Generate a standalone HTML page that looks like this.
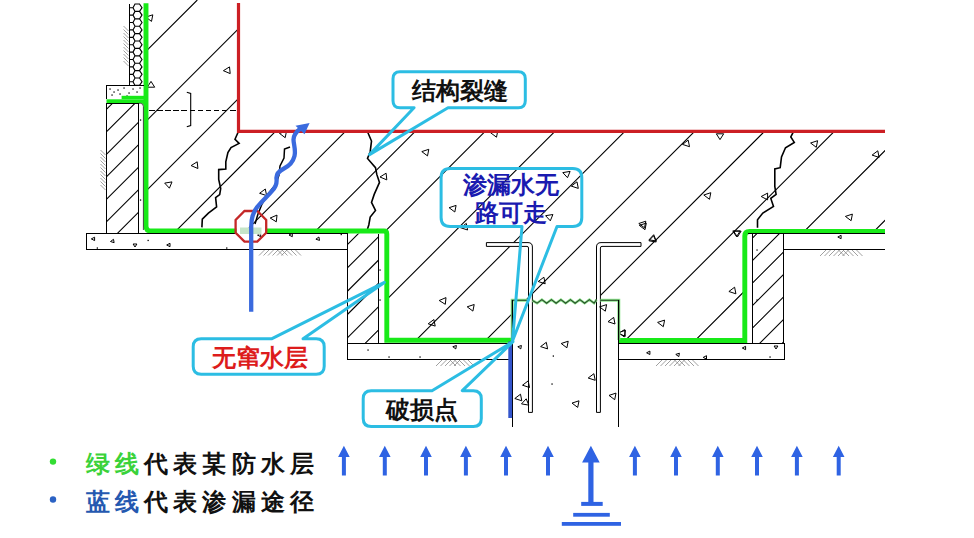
<!DOCTYPE html>
<html><head><meta charset="utf-8"><style>
html,body{margin:0;padding:0;background:#fff;width:974px;height:538px;overflow:hidden;position:relative;font-family:"Liberation Sans",sans-serif;}
</style></head><body>
<svg width="974" height="538" viewBox="0 0 974 538" style="position:absolute;left:0;top:0">
<defs></defs>
<clipPath id="hm"><polygon points="148,0 237,0 237,131 885,131 885,229 745,229 745,338 619,338 619,300 512,300 512,338 386,338 386,229 148,229"/></clipPath>
<path clip-path="url(#hm)" d="M127.5,0L0,127.5M197.3,0L0,197.3M267.2,0L0,267.2M337.0,0L0,337.0M406.9,0L0,406.9M476.8,0L0,476.8M546.6,0L0,546.6M616.5,0L0,616.5M686.3,0L0,686.3M756.2,0L0,756.2M826.0,0L0,826.0M895.9,0L0,895.9M965.7,0L0,965.7M1035.6,0L0,1035.6M1105.4,0L0,1105.4M1175.2,0L0,1175.2M1245.1,0L0,1245.1" stroke="#000" stroke-width="1.1" fill="none"/>
<clipPath id="hb1"><polygon points="107,103 138.5,103 138.5,233.5 107,233.5"/></clipPath>
<path clip-path="url(#hb1)" d="M193.3,0L0,193.3M215.8,0L0,215.8M238.3,0L0,238.3M260.8,0L0,260.8M283.3,0L0,283.3M305.8,0L0,305.8M328.3,0L0,328.3M350.8,0L0,350.8M373.3,0L0,373.3" stroke="#000" stroke-width="1.1" fill="none"/>
<clipPath id="hb2"><polygon points="347.5,233.5 378.8,233.5 378.8,343.4 347.5,343.4"/></clipPath>
<path clip-path="url(#hb2)" d="M568.7,0L0,568.7M592.0,0L0,592.0M615.3,0L0,615.3M638.6,0L0,638.6M661.9,0L0,661.9M685.2,0L0,685.2M708.5,0L0,708.5M731.8,0L0,731.8" stroke="#000" stroke-width="1.1" fill="none"/>
<clipPath id="hb3"><polygon points="752.4,233.7 783.6,233.7 783.6,343.4 752.4,343.4"/></clipPath>
<path clip-path="url(#hb3)" d="M968.0,0L0,968.0M990.5,0L0,990.5M1013.0,0L0,1013.0M1035.5,0L0,1035.5M1058.0,0L0,1058.0M1080.5,0L0,1080.5M1103.0,0L0,1103.0M1125.5,0L0,1125.5M1148.0,0L0,1148.0" stroke="#000" stroke-width="1.1" fill="none"/>
<path d="M486.4,242.6 L528,242.6 Q532.4,242.6 532.4,247 L532.4,412.4 L528.5,412.4 L528.5,248 Q528.5,246.4 527,246.4 L486.4,246.4 Z" fill="#fff" stroke="#000" stroke-width="1"/>
<path d="M641,242.6 L601,242.6 Q596.5,242.6 596.5,247 L596.5,412.4 L600.4,412.4 L600.4,248 Q600.4,246.4 602,246.4 L641,246.4 Z" fill="#fff" stroke="#000" stroke-width="1"/>
<path d="M129.5,7.7L133,7.7L135,4.0L139.5,4.0L142,7.7L139.5,11.4L135,11.4L133,7.7M129.5,15.1L133,15.1L135,11.4L139.5,11.4L142,15.1L139.5,18.8L135,18.8L133,15.1M129.5,22.5L133,22.5L135,18.8L139.5,18.8L142,22.5L139.5,26.2L135,26.2L133,22.5M129.5,29.9L133,29.9L135,26.2L139.5,26.2L142,29.9L139.5,33.6L135,33.6L133,29.9M129.5,37.3L133,37.3L135,33.6L139.5,33.6L142,37.3L139.5,41.0L135,41.0L133,37.3M129.5,44.7L133,44.7L135,41.0L139.5,41.0L142,44.7L139.5,48.4L135,48.4L133,44.7M129.5,52.1L133,52.1L135,48.4L139.5,48.4L142,52.1L139.5,55.8L135,55.8L133,52.1M129.5,59.5L133,59.5L135,55.8L139.5,55.8L142,59.5L139.5,63.2L135,63.2L133,59.5M129.5,66.9L133,66.9L135,63.2L139.5,63.2L142,66.9L139.5,70.6L135,70.6L133,66.9M129.5,74.3L133,74.3L135,70.6L139.5,70.6L142,74.3L139.5,78.0L135,78.0L133,74.3M129.5,81.7L133,81.7L135,78.0L139.5,78.0L142,81.7L139.5,85.4L135,85.4L133,81.7" stroke="#000" stroke-width="1.15" fill="none"/>
<path d="M123.5,26.0L128.5,31.0M123.5,29.5L128.5,34.5M123.5,33.0L128.5,38.0M123.5,36.5L128.5,41.5M123.5,40.0L128.5,45.0M123.5,43.5L128.5,48.5M123.5,47.0L128.5,52.0M123.5,50.5L128.5,55.5M123.5,54.0L128.5,59.0M123.5,57.5L128.5,62.5M123.5,61.0L128.5,66.0" stroke="#888" stroke-width="0.8" fill="none"/>
<path d="M100.5,150.0L105.5,155.0M100.5,153.5L105.5,158.5M100.5,157.0L105.5,162.0M100.5,160.5L105.5,165.5M100.5,164.0L105.5,169.0M100.5,167.5L105.5,172.5M100.5,171.0L105.5,176.0M100.5,174.5L105.5,179.5M100.5,178.0L105.5,183.0M100.5,181.5L105.5,186.5M100.5,185.0L105.5,190.0" stroke="#888" stroke-width="0.8" fill="none"/>
<path d="M259.0,255.5L265.0,249.5M263.5,255.5L269.5,249.5M268.0,255.5L274.0,249.5M272.5,255.5L278.5,249.5M277.0,255.5L283.0,249.5M277.0,249.5L283.0,255.5M281.5,255.5L287.5,249.5M281.5,249.5L287.5,255.5M286.0,249.5L292.0,255.5M290.5,249.5L296.5,255.5M295.0,249.5L301.0,255.5" stroke="#888" stroke-width="0.8" fill="none"/>
<path d="M436.0,366L442.5,359.5M440.5,366L447.0,359.5M445.0,366L451.5,359.5M449.5,366L456.0,359.5M449.5,359.5L456.0,366M454.0,366L460.5,359.5M454.0,359.5L460.5,366M458.5,359.5L465.0,366M463.0,359.5L469.5,366M467.5,359.5L474.0,366" stroke="#888" stroke-width="0.8" fill="none"/>
<path d="M656.0,366L662.5,359.5M660.5,366L667.0,359.5M665.0,366L671.5,359.5M669.5,366L676.0,359.5M674.0,366L680.5,359.5M674.0,359.5L680.5,366M678.5,366L685.0,359.5M678.5,359.5L685.0,366M683.0,359.5L689.5,366M687.5,359.5L694.0,366M692.0,359.5L698.5,366" stroke="#888" stroke-width="0.8" fill="none"/>
<path d="M820.0,256L826.5,249.5M824.5,256L831.0,249.5M829.0,256L835.5,249.5M833.5,256L840.0,249.5M838.0,256L844.5,249.5M838.0,249.5L844.5,256M842.5,256L849.0,249.5M842.5,249.5L849.0,256M847.0,249.5L853.5,256M851.5,249.5L858.0,256M856.0,249.5L862.5,256" stroke="#888" stroke-width="0.8" fill="none"/>
<polygon points="145.8,17.1 151.5,21.4 152.8,14.8" fill="none" stroke="#000" stroke-width="1"/>
<polygon points="223.4,70.7 230.2,73.6 229.5,66.9" fill="none" stroke="#000" stroke-width="1"/>
<polygon points="151.0,81.4 147.3,87.2 154.7,87.2" fill="none" stroke="#000" stroke-width="1"/>
<polygon points="191.1,165.6 197.9,168.5 197.2,161.8" fill="none" stroke="#000" stroke-width="1"/>
<polygon points="164.7,183.1 169.4,188.2 172.0,181.9" fill="none" stroke="#000" stroke-width="1"/>
<polygon points="259.6,193.3 266.6,195.6 265.3,189.0" fill="none" stroke="#000" stroke-width="1"/>
<polygon points="270.2,218.0 276.3,221.8 277.0,215.1" fill="none" stroke="#000" stroke-width="1"/>
<polygon points="285.2,137.7 286.5,131.1 279.5,133.4" fill="none" stroke="#000" stroke-width="1"/>
<polygon points="421.8,151.6 427.5,155.9 428.8,149.3" fill="none" stroke="#000" stroke-width="1"/>
<polygon points="496.5,137.2 497.8,130.6 490.8,132.9" fill="none" stroke="#000" stroke-width="1"/>
<polygon points="380.0,177.0 386.8,179.9 386.1,173.2" fill="none" stroke="#000" stroke-width="1"/>
<polygon points="562.8,172.6 567.5,177.7 570.1,171.4" fill="none" stroke="#000" stroke-width="1"/>
<polygon points="571.3,186.1 578.3,188.4 577.0,181.8" fill="none" stroke="#000" stroke-width="1"/>
<polygon points="449.1,207.7 454.8,212.0 456.1,205.4" fill="none" stroke="#000" stroke-width="1"/>
<polygon points="545.6,215.7 550.3,220.8 552.9,214.5" fill="none" stroke="#000" stroke-width="1"/>
<polygon points="460.6,227.7 467.6,230.0 466.3,223.4" fill="none" stroke="#000" stroke-width="1"/>
<polygon points="638.8,223.5 644.5,227.8 645.8,221.2" fill="none" stroke="#000" stroke-width="1"/>
<polygon points="649.0,239.8 656.3,241.0 653.7,234.7" fill="none" stroke="#000" stroke-width="1"/>
<polygon points="716.3,133.8 720.0,139.6 723.7,133.8" fill="none" stroke="#000" stroke-width="1"/>
<polygon points="682.5,144.4 689.5,146.7 688.2,140.1" fill="none" stroke="#000" stroke-width="1"/>
<polygon points="810.6,143.0 816.3,147.3 817.6,140.7" fill="none" stroke="#000" stroke-width="1"/>
<polygon points="872.1,155.1 879.1,157.4 877.8,150.8" fill="none" stroke="#000" stroke-width="1"/>
<polygon points="703.8,195.0 709.5,199.3 710.8,192.7" fill="none" stroke="#000" stroke-width="1"/>
<polygon points="761.2,196.5 767.6,199.9 767.6,193.1" fill="none" stroke="#000" stroke-width="1"/>
<polygon points="845.4,216.4 851.1,220.7 852.4,214.1" fill="none" stroke="#000" stroke-width="1"/>
<polygon points="733.7,231.2 737.4,237.0 741.1,231.2" fill="none" stroke="#000" stroke-width="1"/>
<polygon points="439.2,300.5 445.3,304.3 446.0,297.6" fill="none" stroke="#000" stroke-width="1"/>
<polygon points="467.2,306.8 472.9,311.1 474.2,304.5" fill="none" stroke="#000" stroke-width="1"/>
<polygon points="428.2,323.8 435.2,326.1 433.9,319.5" fill="none" stroke="#000" stroke-width="1"/>
<polygon points="538.2,281.5 545.2,283.8 543.9,277.2" fill="none" stroke="#000" stroke-width="1"/>
<polygon points="648.9,240.8 656.2,242.0 653.6,235.7" fill="none" stroke="#000" stroke-width="1"/>
<polygon points="599.6,306.9 605.3,311.2 606.6,304.6" fill="none" stroke="#000" stroke-width="1"/>
<polygon points="608.0,321.7 615.0,324.0 613.7,317.4" fill="none" stroke="#000" stroke-width="1"/>
<polygon points="618.5,332.6 624.2,336.9 625.5,330.3" fill="none" stroke="#000" stroke-width="1"/>
<polygon points="645.0,229.7 646.3,223.1 639.3,225.4" fill="none" stroke="#000" stroke-width="1"/>
<polygon points="732.8,230.9 736.5,236.7 740.2,230.9" fill="none" stroke="#000" stroke-width="1"/>
<polygon points="728.9,291.5 735.9,293.8 734.6,287.2" fill="none" stroke="#000" stroke-width="1"/>
<polygon points="657.6,322.4 663.3,326.7 664.6,320.1" fill="none" stroke="#000" stroke-width="1"/>
<polygon points="618.5,333.4 625.3,336.3 624.6,329.6" fill="none" stroke="#000" stroke-width="1"/>
<polygon points="540.6,346.6 547.6,348.9 546.3,342.3" fill="none" stroke="#000" stroke-width="1"/>
<polygon points="561.2,343.5 566.9,347.8 568.2,341.2" fill="none" stroke="#000" stroke-width="1"/>
<polygon points="588.2,378.0 595.2,380.3 593.9,373.7" fill="none" stroke="#000" stroke-width="1"/>
<polygon points="609.0,395.4 614.7,399.7 616.0,393.1" fill="none" stroke="#000" stroke-width="1"/>
<polygon points="572.0,403.1 577.7,407.4 579.0,400.8" fill="none" stroke="#000" stroke-width="1"/>
<polygon points="514.8,398.5 521.8,400.8 520.5,394.2" fill="none" stroke="#000" stroke-width="1"/>
<polygon points="521.5,403.9 528.8,405.1 526.2,398.8" fill="none" stroke="#000" stroke-width="1"/>
<polygon points="522.5,385.2 529.5,387.5 528.2,380.9" fill="none" stroke="#000" stroke-width="1"/>
<polygon points="91.3,238.9 94.6,240.6 94.6,237.2" fill="none" stroke="#000" stroke-width="1"/>
<polygon points="110.5,241.5 114.1,242.7 113.5,239.3" fill="none" stroke="#000" stroke-width="1"/>
<polygon points="133.1,244.0 135.0,247.0 136.9,244.0" fill="none" stroke="#000" stroke-width="1"/>
<polygon points="166.7,245.0 170.0,246.7 170.0,243.3" fill="none" stroke="#000" stroke-width="1"/>
<polygon points="289.0,235.0 292.3,236.7 292.3,233.3" fill="none" stroke="#000" stroke-width="1"/>
<polygon points="315.9,239.2 319.5,240.4 318.9,237.0" fill="none" stroke="#000" stroke-width="1"/>
<polygon points="257.4,235.0 260.7,236.7 260.7,233.3" fill="none" stroke="#000" stroke-width="1"/>
<polygon points="452.8,346.7 455.8,348.9 456.4,345.5" fill="none" stroke="#000" stroke-width="1"/>
<polygon points="517.8,346.7 520.8,348.9 521.4,345.5" fill="none" stroke="#000" stroke-width="1"/>
<polygon points="774.1,346.0 776.0,349.0 777.9,346.0" fill="none" stroke="#000" stroke-width="1"/>
<polygon points="837.8,237.0 841.1,238.7 841.1,235.3" fill="none" stroke="#000" stroke-width="1"/>
<polygon points="646.6,352.8 649.9,354.5 649.9,351.1" fill="none" stroke="#000" stroke-width="1"/>
<polygon points="675.8,354.4 678.8,356.6 679.4,353.2" fill="none" stroke="#000" stroke-width="1"/>
<polygon points="703.2,357.4 706.5,359.1 706.5,355.7" fill="none" stroke="#000" stroke-width="1"/>
<polygon points="742.3,348.0 745.6,349.7 745.6,346.3" fill="none" stroke="#000" stroke-width="1"/>
<g fill="#000"><rect x="147.5" y="239.8" width="1.3" height="1.3"/><rect x="96.7" y="247.4" width="1.3" height="1.3"/><rect x="226.1" y="247.4" width="1.3" height="1.3"/><rect x="340.6" y="233.9" width="1.3" height="1.3"/><rect x="552.7" y="355.4" width="1.3" height="1.3"/><rect x="551.4" y="383.4" width="1.3" height="1.3"/><rect x="367.4" y="349.4" width="1.3" height="1.3"/><rect x="388.4" y="356.4" width="1.3" height="1.3"/><rect x="419.4" y="356.4" width="1.3" height="1.3"/><rect x="769.4" y="356.4" width="1.3" height="1.3"/><rect x="379.4" y="269.4" width="1.3" height="1.3"/><rect x="379.4" y="299.4" width="1.3" height="1.3"/><rect x="756.4" y="249.4" width="1.3" height="1.3"/><rect x="756.4" y="299.4" width="1.3" height="1.3"/><rect x="139.9" y="119.4" width="1.3" height="1.3"/><rect x="139.9" y="199.4" width="1.3" height="1.3"/><rect x="109.4" y="88.4" width="1.3" height="1.3"/><rect x="113.4" y="91.4" width="1.3" height="1.3"/><rect x="117.4" y="89.4" width="1.3" height="1.3"/><rect x="123.4" y="87.4" width="1.3" height="1.3"/><rect x="128.4" y="92.4" width="1.3" height="1.3"/><rect x="132.4" y="88.4" width="1.3" height="1.3"/><rect x="136.4" y="91.4" width="1.3" height="1.3"/><rect x="111.4" y="94.4" width="1.3" height="1.3"/><rect x="126.4" y="95.4" width="1.3" height="1.3"/><rect x="139.4" y="87.4" width="1.3" height="1.3"/><rect x="119.4" y="93.4" width="1.3" height="1.3"/></g>
<path d="M238.1,132.2 L235,139.3 L239.1,143.4 L231,147.5 L227.9,152.6 L225.8,161.9 L225.8,169 L218.7,169.6 L218.7,179.3 L220.7,188.5 L219.7,194.6 L215.6,197.7 L216.6,206.9 L208.4,213.1 L202.3,219.2 L201.9,227.4" stroke="#000" stroke-width="1.6" fill="none" stroke-linejoin="miter"/>
<path d="M367.5,131.7 L371.5,141 L370.2,151.7 L367.5,158.4 L375.5,167.7 L376.8,174.4 L379.5,182.4 L374.2,194.4 L371.5,202.4 L375.5,210.4 L370.2,217 L368.8,225 L367.5,229" stroke="#000" stroke-width="1.6" fill="none" stroke-linejoin="miter"/>
<path d="M793.5,131.7 L790.8,137 L794.3,142.4 L785.5,147.7 L781.5,157 L780.2,167.7 L774.8,169 L774.8,186.4 L776.1,194.4 L770.8,198.4 L773.5,206.4 L762.8,213.1 L757.5,219.8 L757.5,227.8" stroke="#000" stroke-width="1.6" fill="none" stroke-linejoin="miter"/>
<path d="M290,147 L284.5,149 L284,158 L280,166 L279,175 L276,184 L268,194 L262,204 L258,214 L255,224" stroke="#000" stroke-width="1.5" fill="none" stroke-linejoin="miter"/>
<path d="M146,3.3 L146,226 Q146,231 151,231 L384,231 Q386.8,231 386.8,234 L386.8,340.3 L512,340.3" stroke="#18ea18" stroke-width="4.9" fill="none"/>
<path d="M619,340.5 L744.8,340.5 L744.8,236 Q744.8,231.5 749.5,231.5 L885,231.5" stroke="#18ea18" stroke-width="4.9" fill="none"/>
<rect x="106.5" y="99.3" width="40" height="3.8" fill="#18ea18"/><rect x="121.6" y="95.8" width="24" height="3.4" fill="#18ea18"/><path d="M139.5,103 L144.5,103 L144.5,108 A4.5,4.5 0 0 0 139.5,103 Z" fill="#18ea18"/>
<path d="M512.2,340 L512.2,300.2 L528.5,300.2 M600.4,300.2 L618.8,300.2 L618.8,340" stroke="#8fe88f" stroke-width="3" fill="none"/>
<path d="M532.4,300.5 L537.1,303.2 L541.9,299.6 L546.6,303.2 L551.4,299.6 L556.1,303.2 L560.9,299.6 L565.6,303.2 L570.4,299.6 L575.1,303.2 L579.9,299.6 L584.6,303.2 L589.4,299.6 L594.1,303.2 L596.5,299.6 " stroke="#8fe88f" stroke-width="2.6" fill="none"/>
<path d="M512.2,340 L512.2,300.2 L528.5,300.2 M600.4,300.2 L618.8,300.2 L618.8,340" stroke="#1a3a1a" stroke-width="1.1" fill="none"/>
<path d="M532.4,300.5 L537.1,303.2 L541.9,299.6 L546.6,303.2 L551.4,299.6 L556.1,303.2 L560.9,299.6 L565.6,303.2 L570.4,299.6 L575.1,303.2 L579.9,299.6 L584.6,303.2 L589.4,299.6 L594.1,303.2 L596.5,299.6 " stroke="#2a4a2a" stroke-width="1.1" fill="none"/>
<line x1="86.4" y1="233.5" x2="347.5" y2="233.5" stroke="#000" stroke-width="1.0" shape-rendering="crispEdges"/><line x1="86.4" y1="249.5" x2="347.5" y2="249.5" stroke="#000" stroke-width="1.0" shape-rendering="crispEdges"/><line x1="86.5" y1="233.5" x2="86.5" y2="249.3" stroke="#000" stroke-width="1.0" shape-rendering="crispEdges"/><line x1="106.5" y1="103" x2="106.5" y2="233.5" stroke="#000" stroke-width="1.0" shape-rendering="crispEdges"/><line x1="138.5" y1="103" x2="138.5" y2="233.5" stroke="#000" stroke-width="1.0" shape-rendering="crispEdges"/><line x1="106.9" y1="103.5" x2="139" y2="103.5" stroke="#000" stroke-width="1.0" shape-rendering="crispEdges"/><line x1="106.5" y1="85.2" x2="106.5" y2="99" stroke="#000" stroke-width="1.0" shape-rendering="crispEdges"/><line x1="106.5" y1="85.5" x2="144" y2="85.5" stroke="#000" stroke-width="1.0" shape-rendering="crispEdges"/><line x1="129.5" y1="4" x2="129.5" y2="85.2" stroke="#000" stroke-width="1.0" shape-rendering="crispEdges"/><line x1="347.5" y1="233.5" x2="347.5" y2="359.5" stroke="#000" stroke-width="1.0" shape-rendering="crispEdges"/><line x1="378.5" y1="233.5" x2="378.5" y2="343.4" stroke="#000" stroke-width="1.0" shape-rendering="crispEdges"/><line x1="347.5" y1="343.5" x2="512" y2="343.5" stroke="#000" stroke-width="1.0" shape-rendering="crispEdges"/><line x1="347.5" y1="359.5" x2="512" y2="359.5" stroke="#000" stroke-width="1.0" shape-rendering="crispEdges"/><line x1="512.5" y1="300" x2="512.5" y2="427" stroke="#000" stroke-width="1.0" shape-rendering="crispEdges"/><line x1="618.5" y1="300" x2="618.5" y2="427" stroke="#000" stroke-width="1.0" shape-rendering="crispEdges"/><line x1="618.8" y1="343.5" x2="784" y2="343.5" stroke="#000" stroke-width="1.0" shape-rendering="crispEdges"/><line x1="618.8" y1="359.5" x2="784" y2="359.5" stroke="#000" stroke-width="1.0" shape-rendering="crispEdges"/><line x1="784.5" y1="343.4" x2="784.5" y2="359.5" stroke="#000" stroke-width="1.0" shape-rendering="crispEdges"/><line x1="752.5" y1="233.7" x2="752.5" y2="343.4" stroke="#000" stroke-width="1.0" shape-rendering="crispEdges"/><line x1="783.5" y1="233.7" x2="783.5" y2="343.4" stroke="#000" stroke-width="1.0" shape-rendering="crispEdges"/><line x1="783.6" y1="249.5" x2="885" y2="249.5" stroke="#000" stroke-width="1.0" shape-rendering="crispEdges"/><line x1="748" y1="233.5" x2="885" y2="233.5" stroke="#000" stroke-width="1.0" shape-rendering="crispEdges"/><line x1="149" y1="110.5" x2="237" y2="110.5" stroke="#000" stroke-width="1" stroke-dasharray="5.5 2.6" shape-rendering="crispEdges"/><path d="M186.8,92.3 L190.7,93.5 L190.7,125.5 L186.8,126.8" stroke="#000" stroke-width="1.1" fill="none"/>
<path d="M139,103.3 L140.5,103.3 Q143.4,103.3 143.4,106.5 L143.4,230" stroke="#222" stroke-width="0.8" fill="none"/>
<path d="M238.5,3 L238.5,131.3 L885,131.3" stroke="#cc1f24" stroke-width="3.2" fill="none"/>
<rect x="236.5" y="227.5" width="29" height="7" fill="#fff"/><rect x="240" y="227.5" width="21.5" height="6.5" fill="#c5e5c8"/>
<polygon points="266.2,232.7 257.3,241.6 244.5,241.6 235.6,232.7 235.6,219.9 244.5,211.0 257.3,211.0 266.2,219.9" fill="none" stroke="#c42828" stroke-width="2.3"/>
<path d="M251.2,311.8 L251.2,227 C251.2,218 254,210 259,205 C263,200 268,196 272,191 C276,187 277,183 276.5,179 C276,175 279,171 284,168.5 C289,166 293,162 294.5,156 C296,150 293.5,144 293.5,139.5 C293.5,135 296,132 300.5,128.5" stroke="#3a6ade" stroke-width="4.3" fill="none" stroke-linecap="butt"/>
<polygon points="295.5,125.8 309.6,123 304.5,134.2" fill="#3a6ade"/>
<rect x="508.3" y="341.5" width="3.8" height="76.5" fill="#3355cc"/>
<path d="M400,71.7 L518.3,71.7 Q525.3,71.7 525.3,78.7 L525.3,100.7 Q525.3,107.7 518.3,107.7 L448,107.7 L369.5,154.6 L414,107.7 L400,107.7 Q393,107.7 393,100.7 L393,78.7 Q393,71.7 400,71.7 Z" fill="none" stroke="#2cbde3" stroke-width="3" stroke-linejoin="round"/>
<path d="M450.1,168.4 L572.8,168.4 Q581.8,168.4 581.8,177.4 L581.8,217.5 Q581.8,226.5 572.8,226.5 L557,226.5 L512.5,341 L522,226.5 L450.1,226.5 Q441.1,226.5 441.1,217.5 L441.1,177.4 Q441.1,168.4 450.1,168.4 Z" fill="none" stroke="#2cbde3" stroke-width="3" stroke-linejoin="round"/>
<path d="M201.2,338.8 L271.5,338.8 L384.4,282.4 L303.1,338.8 L316.2,338.8 Q324.2,338.8 324.2,346.8 L324.2,366.2 Q324.2,374.2 316.2,374.2 L201.2,374.2 Q193.2,374.2 193.2,366.2 L193.2,346.8 Q193.2,338.8 201.2,338.8 Z" fill="none" stroke="#2cbde3" stroke-width="3" stroke-linejoin="round"/>
<path d="M371.2,390.7 L432,390.7 L513,341.7 L462.3,390.7 L473.3,390.7 Q481.3,390.7 481.3,398.7 L481.3,418.6 Q481.3,426.6 473.3,426.6 L371.2,426.6 Q363.2,426.6 363.2,418.6 L363.2,398.7 Q363.2,390.7 371.2,390.7 Z" fill="none" stroke="#2cbde3" stroke-width="3" stroke-linejoin="round"/>
<text x="459.5" y="99" font-family="Liberation Sans, sans-serif" font-weight="bold" font-size="24" text-anchor="middle" fill="#111">结构裂缝</text>
<text x="510.7" y="193" font-family="Liberation Sans, sans-serif" font-weight="bold" font-size="24" text-anchor="middle" fill="#1a1ab0">渗漏水无</text>
<text x="511" y="221" font-family="Liberation Sans, sans-serif" font-weight="bold" font-size="24" text-anchor="middle" fill="#1a1ab0">路可走</text>
<text x="259.6" y="366" font-family="Liberation Sans, sans-serif" font-weight="bold" font-size="24" text-anchor="middle" fill="#dd1c1c">无窜水层</text>
<text x="422.4" y="418" font-family="Liberation Sans, sans-serif" font-weight="bold" font-size="24" text-anchor="middle" fill="#111">破损点</text>
<circle cx="53" cy="461.6" r="3.2" fill="#33dd33"/><circle cx="53" cy="499.5" r="3.2" fill="#2b62c4"/>
<text x="86" y="472" font-family="Liberation Serif, serif" font-size="24" letter-spacing="5.1" font-weight="bold"><tspan fill="#3ad23a">绿线</tspan><tspan fill="#111">代表某防水层</tspan></text>
<text x="86" y="509.5" font-family="Liberation Serif, serif" font-size="24" letter-spacing="5.1" font-weight="bold"><tspan fill="#2458b0">蓝线</tspan><tspan fill="#111">代表渗漏途径</tspan></text>
<path d="M338.09999999999997,457.1 L343.9,445.8 L349.7,457.1 L345.9,457.1 L345.9,475.5 L341.9,475.5 L341.9,457.1 Z" fill="#2f63e3"/>
<path d="M379.0,457.1 L384.8,445.8 L390.6,457.1 L386.8,457.1 L386.8,475.5 L382.8,475.5 L382.8,457.1 Z" fill="#2f63e3"/>
<path d="M420.2,457.1 L426,445.8 L431.8,457.1 L428,457.1 L428,475.5 L424,475.5 L424,457.1 Z" fill="#2f63e3"/>
<path d="M460.09999999999997,457.1 L465.9,445.8 L471.7,457.1 L467.9,457.1 L467.9,475.5 L463.9,475.5 L463.9,457.1 Z" fill="#2f63e3"/>
<path d="M500.2,457.1 L506,445.8 L511.8,457.1 L508,457.1 L508,475.5 L504,475.5 L504,457.1 Z" fill="#2f63e3"/>
<path d="M542.2,457.1 L548,445.8 L553.8,457.1 L550,457.1 L550,475.5 L546,475.5 L546,457.1 Z" fill="#2f63e3"/>
<path d="M629.1,457.1 L634.9,445.8 L640.6999999999999,457.1 L636.9,457.1 L636.9,475.5 L632.9,475.5 L632.9,457.1 Z" fill="#2f63e3"/>
<path d="M670.2,457.1 L676,445.8 L681.8,457.1 L678,457.1 L678,475.5 L674,475.5 L674,457.1 Z" fill="#2f63e3"/>
<path d="M712.0,457.1 L717.8,445.8 L723.5999999999999,457.1 L719.8,457.1 L719.8,475.5 L715.8,475.5 L715.8,457.1 Z" fill="#2f63e3"/>
<path d="M751.2,457.1 L757,445.8 L762.8,457.1 L759,457.1 L759,475.5 L755,475.5 L755,457.1 Z" fill="#2f63e3"/>
<path d="M791.1,457.1 L796.9,445.8 L802.6999999999999,457.1 L798.9,457.1 L798.9,475.5 L794.9,475.5 L794.9,457.1 Z" fill="#2f63e3"/>
<path d="M832.9000000000001,457.1 L838.7,445.8 L844.5,457.1 L840.7,457.1 L840.7,475.5 L836.7,475.5 L836.7,457.1 Z" fill="#2f63e3"/>
<path d="M582.1,462.5 L590.9,445.7 L599.6999999999999,462.5 L593.5,462.5 L593.5,502 L588.3,502 L588.3,462.5 Z" fill="#2f63e3"/>
<rect x="581.2" y="501.9" width="21.5" height="4" fill="#2f63e3"/><rect x="573.2" y="512.9" width="36.6" height="3.8" fill="#2f63e3"/><rect x="561.8" y="522" width="59.2" height="3.8" fill="#2f63e3"/>
</svg>
</body></html>
